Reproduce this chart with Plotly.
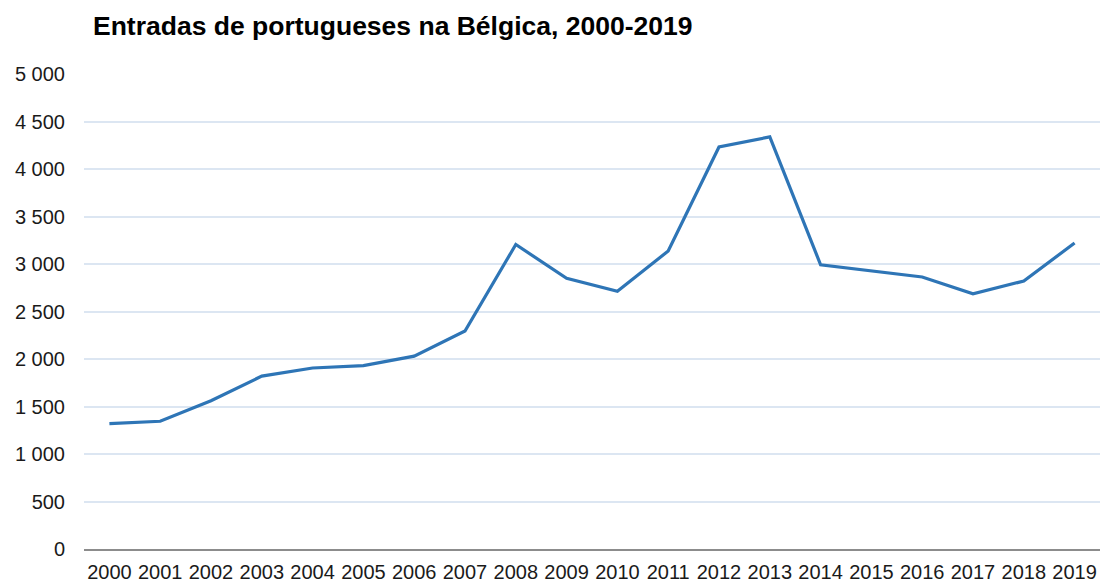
import plotly.graph_objects as go

years = [str(y) for y in range(2000, 2020)]
entradas = [1320, 1345, 1560, 1820, 1905, 1930, 2030, 2295, 3205, 2850,
            2712, 3137, 4232, 4338, 2992, 2926, 2863, 2686, 2821, 3221]

y_tickvals = [0, 500, 1000, 1500, 2000, 2500, 3000, 3500, 4000, 4500, 5000]
y_ticktext = ["0", "500", "1 000", "1 500", "2 000", "2 500", "3 000",
              "3 500", "4 000", "4 500", "5 000"]

fig = go.Figure()
fig.add_trace(go.Scatter(
    x=years, y=entradas, mode="lines",
    line=dict(color="#2E75B6", width=3.2),
    hoverinfo="x+y",
))

fig.update_layout(
    width=1101, height=585,
    margin=dict(l=84, r=1, t=74, b=36, autoexpand=False),
    paper_bgcolor="white", plot_bgcolor="white",
    showlegend=False,
    title=dict(
        text="<b>Entradas de portugueses na Bélgica, 2000-2019</b>",
        x=93/1101, xanchor="left", y=1-26/585, yanchor="middle",
        font=dict(family="Liberation Sans, Arial", size=26.5, color="black"),
    ),
    font=dict(family="Liberation Sans, Arial", size=20, color="#1a1a1a"),
)

fig.update_xaxes(
    type="category", range=[-0.5, 19.5], automargin=False,
    showgrid=False, showline=True, linecolor="#8c8c8c", linewidth=2,
    ticks="", tickfont=dict(size=20, color="#1a1a1a"),
    ticklabelstandoff=4, zeroline=False,
)
fig.update_yaxes(
    range=[0, 5000], tickvals=y_tickvals, ticktext=y_ticktext,
    automargin=False,
    showgrid=True, gridcolor="#DCE6F2", gridwidth=1.6,
    showline=False, zeroline=False, ticks="",
    tickfont=dict(size=20, color="#1a1a1a"),
    ticklabelstandoff=18,
)

fig.write_html(
    "out.html",
    config={"displayModeBar": False},
    post_script="document.body.style.margin='0';document.body.style.overflow='hidden';",
)
